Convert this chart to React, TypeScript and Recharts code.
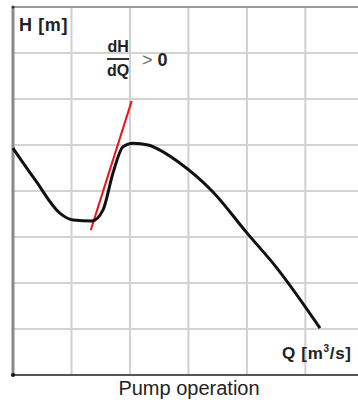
import { ComposedChart, Line, XAxis, YAxis, ReferenceLine, ReferenceDot } from "recharts";

// pump characteristic H(Q)
const flow = [0, 0.38, 0.8, 1.03, 1.35, 1.54, 1.71, 1.88, 2.05, 2.31, 2.85, 3.42, 4.0, 4.51, 5.25];
const head = [4.93, 4.24, 3.52, 3.37, 3.35, 3.59, 4.39, 4.96, 5.04, 5.0, 4.61, 3.98, 3.09, 2.33, 1.02];

// tangent where dH/dQ > 0
const tangentQ = [1.33, 2.03];
const tangentH = [3.15, 5.96];

// grid positions
const xTicks = [1, 2, 3, 4, 5];
const yTicks = [1, 2, 3, 4, 5, 6, 7];

const curve = flow.map((q, i) => ({ q, h: head[i] }));
const tangent = tangentQ.map((q, i) => ({ q, h: tangentH[i] }));

const font = '"Liberation Sans", Arial, sans-serif';

export default function App() {
  return (
    <div
      style={{
        position: "absolute",
        left: 0,
        top: 0,
        width: 358,
        height: 402,
        background: "#fff",
        fontFamily: font,
        color: "#222",
      }}
    >
      <ComposedChart
        width={358}
        height={402}
        margin={{ top: 7, right: 0, left: 13, bottom: 27 }}
      >
        <XAxis type="number" dataKey="q" domain={[0, 5.9]} hide />
        <YAxis type="number" dataKey="h" domain={[0, 8]} hide />
        {xTicks.map((x) => (
          <ReferenceLine key={"x" + x} x={x} stroke="#cfcfcf" strokeWidth={2} />
        ))}
        {yTicks.map((y) => (
          <ReferenceLine key={"y" + y} y={y} stroke="#d3d3d3" strokeWidth={2} />
        ))}
        <ReferenceLine y={8} stroke="#999" strokeWidth={2} ifOverflow="visible" />
        <ReferenceLine x={0} stroke="#8a8a8a" strokeWidth={3} ifOverflow="visible" />
        <ReferenceLine y={0} stroke="#555" strokeWidth={2} ifOverflow="visible" />
        <ReferenceDot x={0} y={0} r={2} fill="#111" stroke="none" ifOverflow="visible" />
        <ReferenceDot x={0} y={8} r={1.5} fill="#333" stroke="none" ifOverflow="visible" />
        <Line
          data={tangent}
          dataKey="h"
          type="linear"
          stroke="#e8141c"
          strokeWidth={2}
          dot={false}
          isAnimationActive={false}
        />
        <Line
          data={curve}
          dataKey="h"
          type="monotone"
          stroke="#111"
          strokeWidth={3}
          dot={false}
          isAnimationActive={false}
        />
      </ComposedChart>
      <div
        style={{ position: "absolute", left: 19, top: 15, fontSize: 18, fontWeight: "bold", letterSpacing: 0.6 }}
      >
        H [m]
      </div>
      <div
        style={{ position: "absolute", left: 282, top: 343, fontSize: 17, fontWeight: "bold", letterSpacing: 0.7 }}
      >
        Q [m<sup style={{ fontSize: 10 }}>3</sup>/s]
      </div>
      <div style={{ position: "absolute", left: 107, top: 38, fontSize: 16, fontWeight: "bold", textAlign: "center" }}>
        <div>dH</div>
        <div style={{ borderTop: "2px solid #333", marginTop: 2, paddingTop: 2 }}>dQ</div>
      </div>
      <div style={{ position: "absolute", left: 142, top: 50, fontSize: 18, fontWeight: "bold" }}>
        <span style={{ color: "#666", fontWeight: "normal" }}>&gt;</span> 0
      </div>
      <div style={{ position: "absolute", left: 0, width: 378, top: 377, fontSize: 20, textAlign: "center" }}>
        Pump operation
      </div>
    </div>
  );
}
